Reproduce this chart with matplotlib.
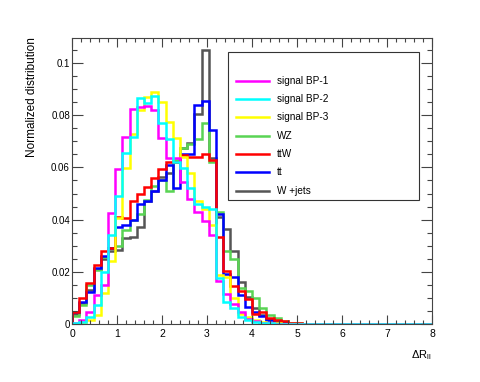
import matplotlib
matplotlib.use("Agg")
import matplotlib.pyplot as plt
from matplotlib.lines import Line2D
from matplotlib.patches import Rectangle
import numpy as np

plt.rcParams['font.family'] = ['Liberation Sans', 'DejaVu Sans']
plt.rcParams['mathtext.default'] = 'regular'

# 50 bins of width 0.16 between 0 and 8
bin_edges = np.linspace(0, 8, 51)

bp1 = [0.0003, 0.0015, 0.0045, 0.011, 0.015, 0.0427, 0.0593, 0.0715, 0.0824, 0.083,
       0.0837, 0.082, 0.0714, 0.0635, 0.0635, 0.0543, 0.048, 0.043, 0.0395, 0.034,
       0.0165, 0.0115, 0.0075, 0.0045, 0.002, 0.001, 0.0005, 0.0003, 0.0001, 0,
       0, 0, 0, 0, 0, 0, 0, 0, 0, 0, 0, 0, 0, 0, 0, 0, 0, 0, 0, 0]
bp2 = [0.0003, 0.0008, 0.0025, 0.0073, 0.020, 0.034, 0.049, 0.0654, 0.0718, 0.0865,
       0.0848, 0.0875, 0.077, 0.071, 0.062, 0.0597, 0.052, 0.046, 0.045, 0.044,
       0.0175, 0.0086, 0.006, 0.0025, 0.0015, 0.0008, 0.0004, 0.0002, 0.0001, 0,
       0, 0, 0, 0, 0, 0, 0, 0, 0, 0, 0, 0, 0, 0, 0, 0, 0, 0, 0, 0]
bp3 = [0, 0.0005, 0.0014, 0.0034, 0.012, 0.024, 0.0405, 0.0596, 0.073, 0.082,
       0.087, 0.0888, 0.085, 0.0775, 0.0714, 0.064, 0.058, 0.047, 0.044, 0.038,
       0.0188, 0.018, 0.0098, 0.004, 0.0025, 0.0015, 0.0008, 0.0004, 0.0002, 0,
       0, 0, 0, 0, 0, 0, 0, 0, 0, 0, 0, 0, 0, 0, 0, 0, 0, 0, 0, 0]
wz = [0.003, 0.0072, 0.015, 0.0207, 0.0258, 0.029, 0.030, 0.036, 0.040, 0.042,
      0.0475, 0.053, 0.055, 0.051, 0.063, 0.0675, 0.069, 0.0708, 0.077, 0.062,
      0.043, 0.028, 0.0248, 0.0137, 0.0127, 0.0098, 0.006, 0.0034, 0.0022, 0.001,
      0.0005, 0.0002, 0, 0, 0, 0, 0, 0, 0, 0, 0, 0, 0, 0, 0, 0, 0, 0, 0, 0]
ttw = [0.0045, 0.0098, 0.0158, 0.0226, 0.028, 0.029, 0.041, 0.0405, 0.047, 0.050,
       0.0525, 0.056, 0.0593, 0.0622, 0.0622, 0.0648, 0.064, 0.064, 0.0651, 0.0628,
       0.0335, 0.0205, 0.0145, 0.0125, 0.0095, 0.004, 0.0045, 0.0022, 0.0015, 0.001,
       0.0005, 0.0002, 0, 0, 0, 0, 0, 0, 0, 0, 0, 0, 0, 0, 0, 0, 0, 0, 0, 0]
tt = [0.0045, 0.0086, 0.0124, 0.0213, 0.026, 0.029, 0.037, 0.038, 0.040, 0.046,
      0.047, 0.051, 0.055, 0.061, 0.052, 0.065, 0.065, 0.0838, 0.0854, 0.0743,
      0.042, 0.019, 0.018, 0.011, 0.0065, 0.0045, 0.003, 0.0015, 0.0005, 0.0003,
      0, 0, 0, 0, 0, 0, 0, 0, 0, 0, 0, 0, 0, 0, 0, 0, 0, 0, 0, 0]
wjets = [0.004, 0.008, 0.013, 0.021, 0.025, 0.028, 0.0285, 0.033, 0.0335, 0.037,
         0.047, 0.051, 0.0565, 0.058, 0.062, 0.0675, 0.0695, 0.0805, 0.105, 0.0637,
         0.041, 0.0363, 0.0281, 0.0162, 0.0105, 0.0063, 0.0035, 0.002, 0.001, 0.0005,
         0, 0, 0, 0, 0, 0, 0, 0, 0, 0, 0, 0, 0, 0, 0, 0, 0, 0, 0, 0]

labels = ['signal BP-1', 'signal BP-2', 'signal BP-3', 'WZ', 'ttW', 'tt', 'W +jets']
series = [bp1, bp2, bp3, wz, ttw, tt, wjets]
colors = ['#ff00ff', '#00ffff', '#ffff00', '#59d454', '#ff0000', '#0000ff', '#555555']
draw_order = [6, 3, 5, 4, 2, 0, 1]

W, H = 480, 382
fig = plt.figure(figsize=(W / 100, H / 100), dpi=100)
ax = fig.add_axes([72 / W, 1 - 324 / H, 360 / W, (324 - 37.5) / H])

for k in draw_order:
    ax.stairs(series[k], bin_edges, color=colors[k], linewidth=1.8, baseline=0)

ax.set_xlim(0, 8)
ax.set_ylim(0, 0.1098)
ax.set_xticks(np.arange(0, 9, 1))
ax.set_xticks(np.arange(0, 8.01, 0.2), minor=True)
ax.set_yticks([0, 0.02, 0.04, 0.06, 0.08, 0.1])
ax.set_yticklabels(['0', '0.02', '0.04', '0.06', '0.08', '0.1'])
ax.set_yticks(np.arange(0, 0.11, 0.005), minor=True)

ax.tick_params(which='both', direction='in', top=True, right=True, color='#444444', width=0.8)
ax.tick_params(axis='x', which='major', length=6.2, labelsize=7.5, pad=3.5)
ax.tick_params(axis='x', which='minor', length=3.1)
ax.tick_params(axis='y', which='major', length=7.8, labelsize=7, pad=1.5)
ax.tick_params(axis='y', which='minor', length=3.9)
for s in ax.spines.values():
    s.set_color('#444444')
    s.set_linewidth(0.8)

fig.text(32 / W, 1 - 37.5 / H, 'Normalized distribution', rotation=90,
         ha='center', va='top', fontsize=8.5)
fig.text(432 / W, 1 - 355 / H, r'$\Delta R_{ll}$', ha='right', va='center', fontsize=8)

# legend box
fig.patches.append(Rectangle((228 / W, 1 - 200 / H), (419 - 228) / W, (200 - 52) / H,
                             transform=fig.transFigure, fill=False,
                             edgecolor='#333333', linewidth=0.8))
for k, lab in enumerate(labels):
    yy = 1 - (80.7 + 18.35 * k) / H
    fig.lines.append(Line2D([236 / W, 269 / W], [yy, yy], transform=fig.transFigure,
                            color=colors[k], linewidth=1.8))
    fig.text(277 / W, yy, lab, ha='left', va='center', fontsize=7.2)

fig.savefig('out.png', dpi=100)
